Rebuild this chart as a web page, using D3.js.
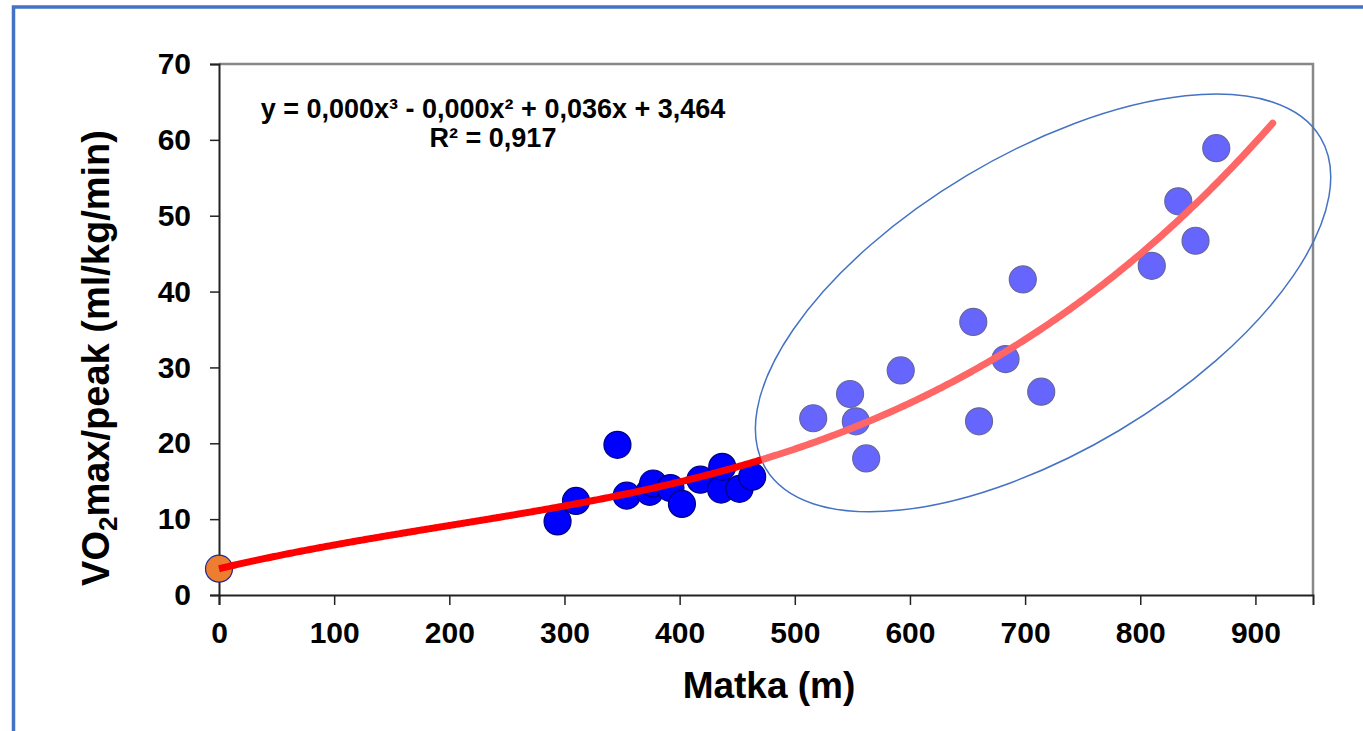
<!DOCTYPE html>
<html>
<head>
	<meta charset="utf-8">
	<title>VO2max / Matka</title>
	<script src="https://d3js.org/d3.v7.min.js"></script>
	<style>
		body { margin: 0; background: #fff; }
		text { font-family: "Liberation Sans", Arial, sans-serif; font-weight: bold; fill: #000; }
	</style>
</head>
<body>
	<script>
		// walking distance (m) and VO2 values
		const lowX = [294, 310, 346, 354, 374, 377, 392, 402, 418, 436, 437, 452, 463]
		const lowY = [9.7, 12.4, 19.8, 13.1, 13.6, 14.7, 14.1, 12.0, 15.2, 13.9, 16.9, 14.0, 15.6]
		const highX = [516, 548, 553, 562, 592, 655, 660, 683, 698, 714, 810, 833, 848, 866]
		const highY = [23.3, 26.5, 22.9, 18.0, 29.6, 36.0, 22.9, 31.1, 41.6, 26.8, 43.4, 51.9, 46.7, 58.9]
		const originX = [0]
		const originY = [3.464]

		const xTicks = [0, 100, 200, 300, 400, 500, 600, 700, 800, 900]
		const yTicks = [0, 10, 20, 30, 40, 50, 60, 70]

		// cubic trendline (shown rounded in the chart)
		const coef = [9.57e-8, -5.675e-5, 0.036, 3.464]
		const trendSplit = 471
		const trendEnd = 915

		const eqLines = ["y = 0,000x³ - 0,000x² + 0,036x + 3,464", "R² = 0,917"]

		const width = 1363
		const height = 731
		const margin = {top: 64, right: 50, bottom: 136, left: 219}

		const svg = d3.select("body").append("svg")
			.attr("width", width)
			.attr("height", height)

		// outer frame
		svg.append("rect")
			.attr("x", 13.5).attr("y", 7)
			.attr("width", width + 20).attr("height", height + 20)
			.attr("fill", "none")
			.attr("stroke", "#4472C4")
			.attr("stroke-width", 3.5)

		const x = d3.scaleLinear([0, 950], [margin.left, width - margin.right])
		const y = d3.scaleLinear([0, 70], [height - margin.bottom, margin.top])

		// plot border (top and right)
		svg.append("path")
			.attr("d", `M${x(0)},${y(70)}H${x(950)}V${y(0)}`)
			.attr("fill", "none")
			.attr("stroke", "#888")
			.attr("stroke-width", 2.5)

		const xAxis = svg.append("g")
			.attr("transform", `translate(0,${y(0)})`)
			.call(d3.axisBottom(x).tickValues(xTicks).tickSizeOuter(0).tickSize(10).tickPadding(17))
		const yAxis = svg.append("g")
			.attr("transform", `translate(${x(0)},0)`)
			.call(d3.axisLeft(y).tickValues(yTicks).tickSizeOuter(0).tickSize(9).tickPadding(19))

		for (const g of [xAxis, yAxis]) {
			g.select(".domain").attr("stroke", "#222").attr("stroke-width", 2)
			g.selectAll(".tick line").attr("stroke", "#222").attr("stroke-width", 1.5)
			g.selectAll(".tick text")
				.style("font-family", '"Liberation Sans", Arial, sans-serif')
				.style("font-weight", "bold")
				.style("font-size", "30px")
				.attr("fill", "#000")
		}

		// ellipse around the higher group
		const ell = {cx: 715.6, cy: 38.5, rx: 323, ry: 148.5, angle: -30.8}
		svg.append("ellipse")
			.attr("transform", `translate(${x(ell.cx)},${y(ell.cy)}) rotate(${ell.angle})`)
			.attr("rx", ell.rx).attr("ry", ell.ry)
			.attr("fill", "none")
			.attr("stroke", "#4472C4")
			.attr("stroke-width", 1.5)

		const r = 13.5

		svg.append("g").selectAll("circle")
			.data(d3.zip(highX, highY))
			.join("circle")
			.attr("cx", d => x(d[0]))
			.attr("cy", d => y(d[1]))
			.attr("r", r)
			.attr("fill", "#6666FF")
			.attr("stroke", "#66669F")
			.attr("stroke-width", 1.2)

		svg.append("g").selectAll("circle")
			.data(d3.zip(lowX, lowY))
			.join("circle")
			.attr("cx", d => x(d[0]))
			.attr("cy", d => y(d[1]))
			.attr("r", r)
			.attr("fill", "#0000FF")
			.attr("stroke", "#000080")
			.attr("stroke-width", 1.2)

		svg.append("g").selectAll("circle")
			.data(d3.zip(originX, originY))
			.join("circle")
			.attr("cx", d => x(d[0]))
			.attr("cy", d => y(d[1]))
			.attr("r", r)
			.attr("fill", "#ED7D31")
			.attr("stroke", "#1F2A90")
			.attr("stroke-width", 1.2)

		// trendline
		const poly = v => ((coef[0] * v + coef[1]) * v + coef[2]) * v + coef[3]
		const line = d3.line().x(d => x(d)).y(d => y(poly(d)))

		svg.append("path")
			.attr("d", line(d3.range(trendSplit - 2, trendEnd, 2).concat([trendEnd])))
			.attr("fill", "none")
			.attr("stroke", "#FF6666")
			.attr("stroke-width", 7)
			.attr("stroke-linecap", "round")

		svg.append("path")
			.attr("d", line(d3.range(0, trendSplit, 2).concat([trendSplit])))
			.attr("fill", "none")
			.attr("stroke", "#FF0000")
			.attr("stroke-width", 7)

		// equation
		svg.append("g").selectAll("text")
			.data(eqLines)
			.join("text")
			.attr("x", 493)
			.attr("y", (d, i) => 118 + i * 29)
			.attr("text-anchor", "middle")
			.style("font-size", "27px")
			.text(d => d)

		// axis titles
		svg.append("text")
			.attr("x", 769)
			.attr("y", 698)
			.attr("text-anchor", "middle")
			.style("font-size", "37px")
			.text("Matka (m)")

		const yt = svg.append("text")
			.attr("transform", "translate(109,358) rotate(-90)")
			.attr("text-anchor", "middle")
			.style("font-size", "38px")
		yt.append("tspan").text("VO")
		yt.append("tspan").attr("dy", 8).style("font-size", "26px").text("2")
		yt.append("tspan").attr("dy", -8).text("max/peak (ml/kg/min)")
	</script>
</body>
</html>
